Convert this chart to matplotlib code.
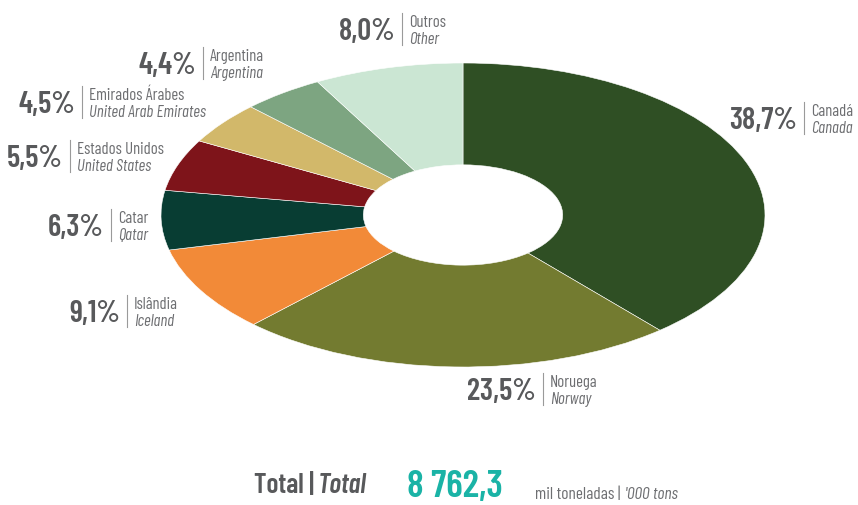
import matplotlib
matplotlib.use("Agg")
from matplotlib import pyplot as plt

plt.rcParams['font.family'] = ['Barlow Condensed', 'DejaVu Sans']

# share of each country, clockwise from the top
names_pt = ["Canadá", "Noruega", "Islândia", "Catar", "Estados Unidos",
            "Emirados Árabes", "Argentina", "Outros"]
names_en = ["Canada", "Norway", "Iceland", "Qatar", "United States",
            "United Arab Emirates", "Argentina", "Other"]
shares = [38.7, 23.5, 9.1, 6.3, 5.5, 4.5, 4.4, 8.0]
colours = ["#2f4f24", "#737b30", "#f28a38", "#083d33", "#7e141a",
           "#d2b86a", "#7da581", "#cbe6d3"]
total = "8 762,3"

W, H = 858, 505
fig = plt.figure(figsize=(W / 100, H / 100), dpi=100)

# squashed donut: centre (463, 215), rx 302, ry 152 in pixels
cx, cy, rx, ry = 463, 215, 302, 152
ax = fig.add_axes([(cx - rx) / W, 1 - (cy + ry) / H, 2 * rx / W, 2 * ry / H])
ax.pie(shares, colors=colours, startangle=90, counterclock=False, radius=1,
       wedgeprops=dict(width=0.67, edgecolor="white", linewidth=0.4))
ax.set_aspect("auto")
ax.set_xlim(-1, 1)
ax.set_ylim(-1, 1)
ax.axis("off")

# overlay in pixel coords for all the text
ov = fig.add_axes([0, 0, 1, 1])
ov.axis("off")
ov.set_xlim(0, W)
ov.set_ylim(H, 0)

# label anchors: separator x, centre y
label_pos = [(804, 118), (543, 389), (127, 311), (111, 225), (70, 156),
             (82, 102), (203, 63), (402, 29)]

dark = "#58595b"
light = "#6d6e71"

for i in range(len(shares)):
    sx, sy = label_pos[i]
    pct = f"{shares[i]:.1f}%".replace(".", ",")
    ov.text(sx - 7, sy + 11, pct, ha="right", va="baseline",
            fontsize=22, fontweight=600, color=dark)
    ov.plot([sx, sx], [sy - 16, sy + 16], color="#9a9a9a", lw=0.8)
    ov.text(sx + 7, sy - 2, names_pt[i], ha="left", va="baseline",
            fontsize=12, color=light)
    ov.text(sx + 7, sy + 15, names_en[i], ha="left", va="baseline",
            fontsize=12, color=light, style="italic")

# total line at the bottom
a = ov.text(254, 493, "Total |", ha="left", va="baseline",
            fontsize=20, fontweight=600, color=dark)
ov.annotate("Total", xy=(1, 0), xycoords=a, xytext=(3, 0),
            textcoords="offset points", ha="left", va="bottom",
            fontsize=20, fontweight=600, style="italic", color=dark)
ov.text(407, 497, total, ha="left", va="baseline", fontsize=27.5,
        fontweight=600, color="#1ab3a6")
b = ov.text(535, 499, "mil toneladas |", ha="left", va="baseline",
            fontsize=12.5, color=light)
ov.annotate("'000 tons", xy=(1, 0), xycoords=b, xytext=(3, 0),
            textcoords="offset points", ha="left", va="bottom",
            fontsize=12.5, style="italic", color=light)

fig.savefig("out.png", dpi=100)
